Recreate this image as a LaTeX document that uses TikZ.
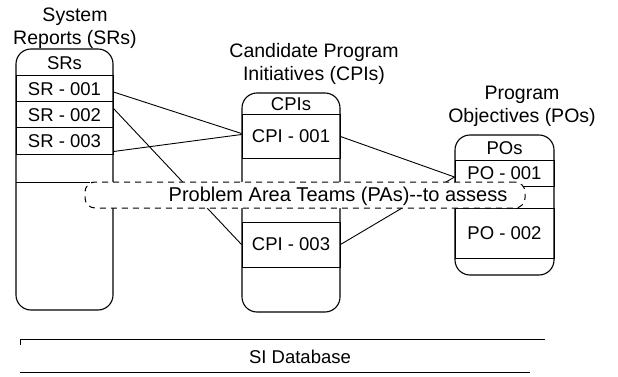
\documentclass[tikz,border=0pt]{standalone}
\usepackage{fontspec}
\setmainfont{Liberation Sans}
\usetikzlibrary{positioning}

\begin{document}
\begin{tikzpicture}[x=1pt,y=-1pt,
    title/.style={align=center,inner sep=0pt,font=\fontsize{19.5}{23}\selectfont},
    tbl/.style={draw,line width=1.1pt,rounded corners=15pt,inner sep=0pt},
    row/.style={draw,line width=1pt,inner sep=0pt,font=\fontsize{18.5}{22}\selectfont},
    head/.style={inner sep=0pt,font=\fontsize{18.5}{22}\selectfont},
    link/.style={line width=0.9pt},
    band/.style={draw,fill=white,line width=1pt,dash pattern=on 6pt off 5pt,rounded corners=10pt}]
  \useasboundingbox (0,0) rectangle (618,377);

  % titles
  \node[title] (srtitle) at (75,28) {System\\Reports (SRs)};
  \node[title] (cpititle) at (314,64) {Candidate Program\\Initiatives (CPIs)};
  \node[title] (potitle) at (522,106) {Program\\Objectives (POs)};

  % system reports
  \node[tbl,minimum width=97pt,minimum height=261pt] (srbox) at (64.5,179.5) {};
  \node[head] (srhead) at (64.5,63) {SRs};
  \node[row,minimum width=97pt,minimum height=26pt] (sr1) at (64.5,89) {SR - 001};
  \node[row,minimum width=97pt,minimum height=26pt] (sr2) at (64.5,115) {SR - 002};
  \node[row,minimum width=97pt,minimum height=26pt] (sr3) at (64.5,141) {SR - 003};
  \draw[line width=1pt] (16,182) -- (90,182);

  % candidate program initiatives
  \node[tbl,minimum width=98pt,minimum height=219pt] (cpibox) at (291,202.5) {};
  \node[head] (cpihead) at (291,104) {CPIs};
  \node[row,minimum width=98pt,minimum height=43pt] (cpi1) at (291,136.5) {CPI - 001};
  \node[row,minimum width=98pt,minimum height=45pt] (cpi3) at (291,244.5) {CPI - 003};

  % program objectives
  \node[tbl,minimum width=99pt,minimum height=140pt] (pobox) at (504.5,205) {};
  \node[head] (pohead) at (504.5,148) {POs};
  \node[row,minimum width=99pt,minimum height=26pt] (po1) at (504.5,173) {PO - 001};
  \node[row,minimum width=99pt,minimum height=50pt] (po2) at (504.5,233) {PO - 002};

  % links
  \draw[link] ([yshift=-7pt]sr2.north east) -- (cpi3.west);
  \draw[link] ([yshift=-3pt]sr1.east) -- ([yshift=3pt]cpi1.west);
  \draw[link] ([yshift=3pt]sr3.south east) -- ([yshift=2pt]cpi1.west);
  \draw[link] (cpi1.east) -- ([yshift=-4pt]po1.west);
  \draw[link] (cpi3.east) -- ([yshift=-4pt]po1.west);

  % problem area teams
  \node[band,minimum width=440pt,minimum height=26pt] (pa) at (305,195) {};
  \node[head,font=\fontsize{20}{22}\selectfont] (patext) at (338,196) {Problem Area Teams (PAs){-}{-}to assess};

  % database
  \node[head] (sidb) at (300,357) {SI Database};
  \draw[line width=0.9pt] (20,345) -- (20,339) -- (545,339);
  \draw[line width=0.9pt] (20,372) -- (530,372);
\end{tikzpicture}
\end{document}
